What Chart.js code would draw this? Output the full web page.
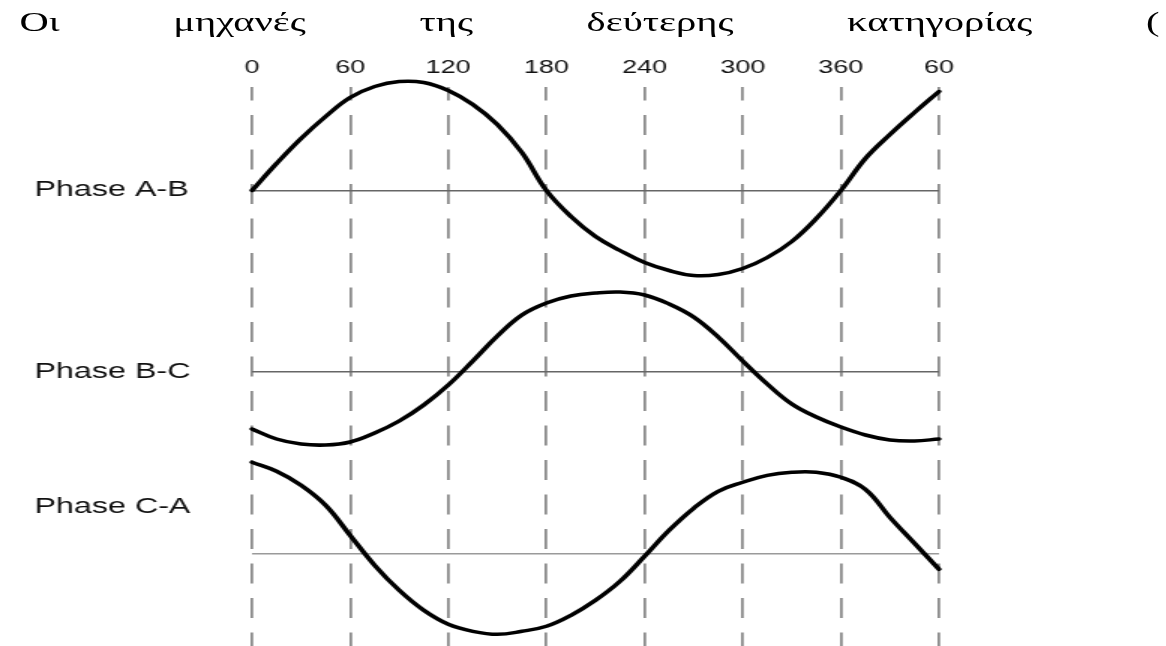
<!DOCTYPE html>
<html>
<head>
<meta charset="utf-8">
<title>Phase voltages</title>
<script src="https://cdn.jsdelivr.net/npm/chart.js@4.4.0/dist/chart.umd.min.js"></script>
<style>
  html, body { margin: 0; padding: 0; background: #fff; overflow: hidden; }
  /* the whole sheet is drawn narrow and widened 1.5x, like the printed figure */
  #sheet { position: relative; width: 777px; height: 646px; transform: scaleX(1.5); transform-origin: 0 0; }
  #caption { position: absolute; left: 13px; top: 9px; width: 760px; margin: 0;
    font: 27px/27px "Liberation Serif", serif; color: #000;
    text-align: justify; text-align-last: justify; }
  #c { position: absolute; left: 0; top: 0; }
</style>
</head>
<body>
<div id="sheet">
  <p id="caption">Οι μηχανές της δεύτερης κατηγορίας (</p>
  <canvas id="c" width="777" height="646"></canvas>
</div>
<script>
// electrical angle in degrees, one sample every 15
var degrees = [0, 15, 30, 45, 60, 75, 90, 105, 120, 135, 150, 165, 180, 195, 210,
  225, 240, 255, 270, 285, 300, 315, 330, 345, 360, 375, 390, 405, 420];
// labels on the top axis (the last one wraps round to 60 again)
var tickLabels = ["0", "60", "120", "180", "240", "300", "360", "60"];
var phaseNames = ["Phase A-B", "Phase B-C", "Phase C-A"];

// line voltages
var phaseAB = [0, 27, 52, 74, 93, 104, 109, 108, 100, 86, 66, 38, 0, -26, -46,
  -60, -72, -80, -85, -84, -78, -67, -51, -28, 0, 32, 56, 78, 99];
var phaseBC = [-57, -67, -72, -73, -70, -61, -49, -33, -13, 11, 36, 57, 69, 76, 79,
  80, 77, 68, 55, 35, 11, -12, -32, -45, -55, -63, -68, -69, -67];
var phaseCA = [91, 82, 68, 48, 18, -12, -37, -57, -71, -78, -81, -78, -73, -62, -47,
  -28, -3, 23, 45, 62, 71, 78, 81, 81, 76, 64, 36, 10, -16];

function points(values) {
  return degrees.map(function(d, i) {
    return { x: d, y: values[i] };
  });
}

function trace(values, axis) {
  return {
    data: points(values),
    yAxisID: axis,
    borderColor: "#000",
    borderWidth: 3.5,
    borderCapStyle: "round",
    borderJoinStyle: "round",
    pointRadius: 0,
    fill: false,
    tension: 0.4,
    clip: false
  };
}

// one y axis per phase, each showing only its zero line
function phaseAxis(min, max, color) {
  return {
    type: "linear",
    position: "left",
    min: min,
    max: max,
    ticks: { display: false },
    border: { display: false },
    grid: { drawTicks: false, lineWidth: 1.5, color: color },
    afterBuildTicks: function(scale) {
      scale.ticks = [{ value: 0 }];
    },
    afterFit: function(scale) {
      scale.width = 0;
    }
  };
}

// phase names written to the left of each trace
var phaseLabels = {
  id: "phaseLabels",
  afterDraw: function(chart) {
    var levels = [0, 0, 46];
    var ctx = chart.ctx;
    ctx.save();
    ctx.font = '21.5px "Liberation Sans", Arial, sans-serif';
    ctx.fillStyle = "#111";
    ctx.textBaseline = "middle";
    ["yAB", "yBC", "yCA"].forEach(function(id, i) {
      var y = chart.scales[id].getPixelForValue(levels[i]);
      ctx.fillText(phaseNames[i], 23, y);
    });
    ctx.restore();
  }
};

var ctx = document.getElementById("c").getContext("2d");
var chart = new Chart(ctx, {
  type: "line",
  data: {
    datasets: [trace(phaseAB, "yAB"), trace(phaseBC, "yBC"), trace(phaseCA, "yCA")]
  },
  options: {
    responsive: false,
    animation: false,
    layout: { padding: { left: 168, right: 151, top: 49.4, bottom: 0 } },
    plugins: { legend: { display: false }, tooltip: { enabled: false } },
    scales: {
      x: {
        type: "linear",
        position: "top",
        min: 0,
        max: 420,
        ticks: {
          stepSize: 60,
          autoSkip: false,
          maxRotation: 0,
          padding: 8,
          color: "#111",
          font: { family: "Liberation Sans", size: 18 },
          callback: function(value, index) {
            return tickLabels[index];
          }
        },
        grid: { color: "#8c8c8c", lineWidth: 1.8, drawTicks: false,
          borderDash: [20, 14.5], borderDashOffset: 6.5 },
        border: { display: false, dash: [20, 14.5], dashOffset: 6.5 }
      },
      yAB: phaseAxis(-455.5, 103.5, "#666"),
      yBC: phaseAxis(-274, 285, "#666"),
      yCA: phaseAxis(-92.7, 466.3, "#9a9a9a")
    }
  },
  plugins: [phaseLabels]
});
</script>
</body>
</html>
